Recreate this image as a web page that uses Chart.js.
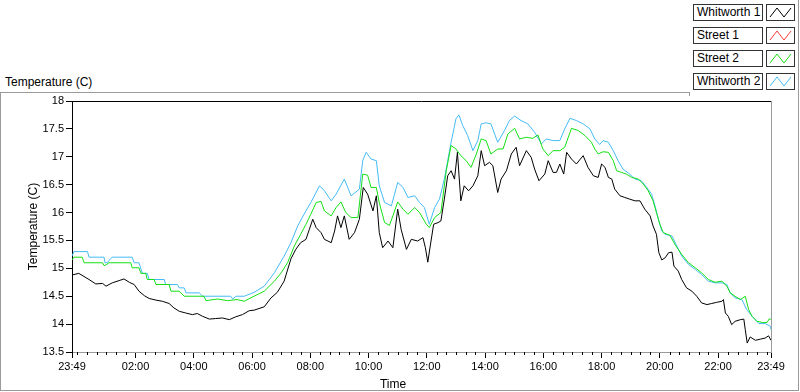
<!DOCTYPE html>
<html>
<head>
<meta charset="utf-8">
<script src="https://cdn.jsdelivr.net/npm/chart.js@4/dist/chart.umd.min.js"></script>
<style>
  html, body { margin: 0; padding: 0; background: #fff; }
  body { width: 800px; height: 392px; position: relative; overflow: hidden;
         font-family: "Liberation Sans", Arial, sans-serif; color: #000; }
  .frame { position: absolute; left: 0; top: 92px; width: 797px; height: 297px; border: 1px solid #9a9a9a; }
  .frame-right { position: absolute; left: 798px; top: 0; width: 1px; height: 92px; background: #9a9a9a; }
  .legend-cover { position: absolute; left: 690px; top: 0; width: 108px; height: 96px; background: #fff; }
  .legend-edge { position: absolute; left: 689px; top: 92px; width: 1px; height: 4px; background: #9a9a9a; }
  .top-label { position: absolute; left: 5px; top: 75px; font-size: 12px; line-height: 14px; }
  .time-title { position: absolute; left: 368px; width: 50px; text-align: center; top: 377px; font-size: 12px; line-height: 14px; }
  .name { position: absolute; left: 693px; width: 65px; height: 15px; border: 1px solid #333;
          padding-left: 3px; font-size: 12px; line-height: 15px; white-space: nowrap; }
  .swatch { position: absolute; left: 766px; width: 27px; height: 15px; border: 1px solid #333; }
  .swatch svg { display: block; }
  #wrap { position: absolute; left: 0; top: 0; width: 800px; height: 392px; }
</style>
</head>
<body>
<div class="frame"></div>
<div class="frame-right"></div>
<div class="legend-cover"></div>
<div class="legend-edge"></div>
<div class="top-label">Temperature (C)</div>
<div id="legend"></div>
<div id="wrap"><canvas id="chart"></canvas></div>
<div class="time-title">Time</div>
<script>
// minutes after 23:49, temperatures in C
const seriesNames = ["Whitworth 1", "Street 1", "Street 2", "Whitworth 2"];
const seriesColors = ["#000000", "#ff3c3c", "#14e014", "#45bbf5"];

const xTickMinutes = [0, 131, 251, 371, 491, 611, 731, 851, 971, 1091, 1211, 1331, 1440];
const xTickLabels = ["23:49", "02:00", "04:00", "06:00", "08:00", "10:00", "12:00",
  "14:00", "16:00", "18:00", "20:00", "22:00", "23:49"];

const whitworth1Min = [0, 14, 35, 49, 63, 70, 83, 97, 107, 118, 128, 138, 149, 159, 173, 186, 200, 210,
  221, 234, 248, 258, 269, 283, 296, 310, 324, 337, 351, 365, 375, 396, 410, 423, 437, 451, 461, 471,
  482, 489, 496, 503, 513, 520, 534, 541, 547, 554, 561, 571, 582, 592, 600, 609, 620, 627, 633, 640,
  651, 661, 671, 678, 689, 699, 712, 723, 728, 733, 738, 745, 754, 760, 767, 774, 781, 788, 794, 801,
  808, 817, 826, 836, 843, 850, 860, 867, 877, 884, 895, 905, 915, 922, 936, 946, 953, 962, 974, 981,
  991, 998, 1005, 1013, 1019, 1029, 1039, 1053, 1063, 1074, 1084, 1091, 1098, 1105, 1112, 1118, 1129,
  1139, 1149, 1160, 1170, 1180, 1191, 1197, 1204, 1209, 1215, 1222, 1229, 1236, 1240, 1249, 1256, 1266,
  1277, 1287, 1297, 1308, 1318, 1328, 1339, 1342, 1346, 1352, 1359, 1366, 1377, 1384, 1387, 1391, 1397,
  1408, 1418, 1428, 1435, 1440];
const whitworth1Temp = [14.88, 14.91, 14.80, 14.72, 14.73, 14.68, 14.74, 14.78, 14.81, 14.75, 14.71,
  14.59, 14.51, 14.46, 14.43, 14.41, 14.37, 14.29, 14.23, 14.20, 14.17, 14.19, 14.14, 14.09, 14.10,
  14.11, 14.08, 14.13, 14.17, 14.24, 14.25, 14.31, 14.47, 14.57, 14.77, 15.17, 15.34, 15.46, 15.52,
  15.70, 15.88, 15.73, 15.64, 15.52, 15.46, 15.67, 15.94, 15.73, 15.94, 15.52, 15.64, 15.88, 16.45,
  16.33, 16.03, 16.30, 15.64, 15.37, 15.49, 15.37, 16.06, 15.70, 15.34, 15.52, 15.49, 15.55, 15.37,
  15.11, 15.40, 15.79, 15.82, 15.85, 16.24, 16.66, 16.75, 16.60, 17.08, 16.21, 16.48, 16.39, 16.48,
  16.66, 17.11, 16.84, 16.90, 16.84, 16.36, 16.60, 16.75, 17.05, 17.17, 16.84, 17.11, 16.99, 16.78,
  16.57, 16.69, 16.93, 16.72, 16.72, 16.87, 16.69, 17.08, 16.96, 16.87, 17.02, 16.81, 16.66, 16.63,
  16.87, 16.81, 16.63, 16.60, 16.42, 16.30, 16.27, 16.24, 16.21, 16.21, 16.06, 15.94, 15.76, 15.61,
  15.28, 15.15, 15.19, 15.28, 15.29, 15.04, 14.95, 14.80, 14.65, 14.59, 14.50, 14.38, 14.35, 14.37,
  14.39, 14.41, 14.44, 14.20, 14.14, 13.99, 14.05, 14.08, 14.09, 13.90, 13.66, 13.77, 13.71, 13.73,
  13.75, 13.79, 13.71];

const street1Min = [];
const street1Temp = [];

const street2Min = [0, 4, 21, 25, 63, 66, 70, 76, 121, 124, 138, 142, 152, 155, 169, 173, 200, 204, 221,
  231, 272, 276, 300, 320, 340, 355, 375, 396, 417, 431, 444, 458, 471, 482, 492, 503, 513, 520, 534,
  544, 554, 564, 575, 589, 599, 609, 616, 627, 633, 644, 654, 661, 671, 682, 692, 706, 716, 730, 736,
  747, 760, 771, 781, 791, 801, 812, 822, 833, 843, 853, 863, 877, 888, 898, 912, 922, 936, 949, 960,
  970, 981, 991, 1005, 1015, 1029, 1043, 1057, 1070, 1077, 1084, 1094, 1105, 1115, 1122, 1132, 1142,
  1153, 1167, 1177, 1187, 1197, 1204, 1211, 1218, 1232, 1242, 1256, 1270, 1284, 1297, 1311, 1325, 1339,
  1349, 1356, 1366, 1377, 1387, 1394, 1401, 1411, 1422, 1432, 1436, 1440];
const street2Temp = [15.15, 15.20, 15.20, 15.10, 15.10, 15.05, 15.06, 15.10, 15.10, 15.01, 15.01,
  14.91, 14.91, 14.80, 14.80, 14.71, 14.71, 14.59, 14.59, 14.50, 14.50, 14.42, 14.45, 14.42, 14.44,
  14.41, 14.50, 14.59, 14.77, 14.92, 15.10, 15.40, 15.61, 15.79, 15.97, 16.18, 16.20, 16.03, 15.94,
  16.09, 16.19, 16.00, 15.91, 15.91, 16.69, 16.67, 16.45, 16.45, 16.18, 15.82, 15.77, 15.94, 16.19,
  16.06, 15.97, 16.09, 16.00, 15.79, 15.73, 15.91, 16.00, 16.75, 17.20, 17.14, 17.02, 16.93, 16.81,
  17.05, 17.32, 17.29, 17.05, 17.14, 17.14, 17.41, 17.51, 17.32, 17.35, 17.33, 17.39, 17.14, 17.02,
  17.11, 17.11, 17.17, 17.51, 17.47, 17.38, 17.26, 17.14, 17.05, 17.09, 17.08, 16.93, 16.75, 16.72,
  16.69, 16.63, 16.60, 16.51, 16.39, 16.21, 16.00, 15.79, 15.64, 15.59, 15.43, 15.25, 15.10, 15.01,
  14.92, 14.80, 14.75, 14.77, 14.68, 14.56, 14.50, 14.44, 14.50, 14.26, 14.14, 14.05, 14.03, 14.03,
  14.09, 14.09];

const whitworth2Min = [0, 4, 32, 35, 66, 68, 73, 76, 83, 124, 128, 138, 145, 155, 159, 190, 193, 217,
  221, 231, 235, 262, 269, 327, 331, 338, 355, 375, 396, 417, 437, 451, 465, 478, 492, 510, 520, 534,
  544, 561, 575, 592, 599, 606, 616, 627, 633, 644, 658, 671, 682, 692, 706, 716, 726, 736, 747, 757,
  767, 781, 791, 797, 805, 815, 826, 836, 843, 853, 863, 877, 891, 901, 912, 925, 939, 953, 967, 977,
  991, 1005, 1015, 1026, 1039, 1053, 1067, 1077, 1087, 1094, 1105, 1115, 1125, 1135, 1146, 1160, 1173,
  1184, 1194, 1201, 1208, 1215, 1222, 1236, 1246, 1256, 1270, 1284, 1297, 1311, 1325, 1339, 1349, 1356,
  1366, 1380, 1390, 1401, 1415, 1428, 1439, 1440];
const whitworth2Temp = [15.22, 15.30, 15.30, 15.20, 15.20, 15.10, 15.10, 15.14, 15.20, 15.20, 15.10,
  15.10, 14.91, 14.91, 14.80, 14.80, 14.71, 14.71, 14.65, 14.65, 14.56, 14.56, 14.50, 14.50, 14.45,
  14.50, 14.50, 14.57, 14.68, 14.92, 15.22, 15.46, 15.76, 15.97, 16.18, 16.48, 16.39, 16.21, 16.33,
  16.60, 16.30, 16.42, 16.93, 17.08, 16.96, 16.93, 16.48, 16.18, 16.12, 16.54, 16.45, 16.27, 16.30,
  16.18, 16.09, 15.79, 16.09, 16.24, 16.60, 17.26, 17.68, 17.75, 17.56, 17.38, 17.11, 17.29, 17.59,
  17.61, 17.59, 17.26, 17.47, 17.65, 17.73, 17.65, 17.59, 17.44, 17.23, 17.32, 17.29, 17.29, 17.50,
  17.69, 17.65, 17.59, 17.50, 17.32, 17.22, 17.29, 17.26, 17.11, 16.93, 16.78, 16.71, 16.60, 16.57,
  16.45, 16.33, 16.12, 15.88, 15.67, 15.61, 15.58, 15.40, 15.22, 15.07, 14.98, 14.89, 14.77, 14.74,
  14.74, 14.71, 14.56, 14.47, 14.44, 14.26, 14.14, 14.01, 14.01, 13.96, 13.90];

const seriesMin = [whitworth1Min, street1Min, street2Min, whitworth2Min];
const seriesTemp = [whitworth1Temp, street1Temp, street2Temp, whitworth2Temp];

// legend boxes, LabVIEW style
const legendEl = document.getElementById("legend");
seriesNames.forEach((name, i) => {
  const top = 4 + i * 23;
  const box = document.createElement("div");
  box.className = "name";
  box.style.top = top + "px";
  box.textContent = name;
  legendEl.appendChild(box);
  const sw = document.createElement("div");
  sw.className = "swatch";
  sw.style.top = top + "px";
  sw.innerHTML = '<svg width="27" height="15"><polyline points="3,12 10,3 17,12 24,3" fill="none" stroke="' +
    seriesColors[i] + '" stroke-width="1"/></svg>';
  legendEl.appendChild(sw);
});

// plot frame: dark top/left, grey right/bottom, plus minor ticks on the time axis
const framePlugin = {
  id: "frame",
  afterDraw(chart) {
    const { ctx, chartArea: a } = chart;
    const xs = chart.scales.x;
    ctx.save();
    ctx.lineWidth = 1;
    ctx.strokeStyle = "#000";
    ctx.beginPath();
    ctx.moveTo(a.left, a.top + 0.5);
    ctx.lineTo(a.right, a.top + 0.5);
    ctx.stroke();
    ctx.strokeStyle = "#9a9a9a";
    ctx.beginPath();
    ctx.moveTo(a.right + 0.5, a.top);
    ctx.lineTo(a.right + 0.5, a.bottom);
    ctx.stroke();
    ctx.strokeStyle = "#000";
    ctx.beginPath();
    for (let m = 11; m < 1440; m += 20) {
      if (xTickMinutes.includes(m)) continue;
      const px = Math.round(xs.getPixelForValue(m)) + 0.5;
      ctx.moveTo(px, a.bottom);
      ctx.lineTo(px, a.bottom + 3);
    }
    ctx.stroke();
    ctx.restore();
  }
};

Chart.defaults.font.family = '"Liberation Sans", Arial, sans-serif';
Chart.defaults.font.size = 11;
Chart.defaults.color = "#000";

const ctx = document.getElementById("chart").getContext("2d");

new Chart(ctx, {
  type: "line",
  data: {
    datasets: seriesNames.map((name, i) => ({
      label: name,
      data: seriesMin[i].map((m, j) => ({ x: m, y: seriesTemp[i][j] })),
      borderColor: seriesColors[i],
      borderWidth: 1,
      pointRadius: 0,
      tension: 0,
      fill: false,
    })),
  },
  options: {
    responsive: true,
    maintainAspectRatio: false,
    animation: false,
    layout: { padding: { top: 101, right: 29, left: 0, bottom: 0 } },
    plugins: {
      legend: { display: false },
      tooltip: { enabled: false },
    },
    scales: {
      x: {
        type: "linear",
        min: 0,
        max: 1440,
        afterBuildTicks: (scale) => {
          scale.ticks = xTickMinutes.map((v) => ({ value: v }));
        },
        afterFit: (scale) => { scale.height = 40; },
        ticks: {
          autoSkip: false,
          maxRotation: 0,
          padding: 2,
          callback: (value) => {
            const k = xTickMinutes.indexOf(value);
            return k >= 0 ? xTickLabels[k] : "";
          },
        },
        grid: { drawOnChartArea: false, tickLength: 6, tickColor: "#000" },
        border: { color: "#9a9a9a" },
      },
      y: {
        min: 13.5,
        max: 18,
        afterFit: (scale) => { scale.width = 72; },
        ticks: { stepSize: 0.5, padding: 2, callback: (value) => String(value) },
        grid: { drawOnChartArea: false, tickLength: 6, tickColor: "#000" },
        border: { color: "#000" },
        title: {
          display: true,
          text: "Temperature (C)",
          font: { size: 12 },
          color: "#000",
          padding: { top: 26, bottom: 0 },
        },
      },
    },
  },
  plugins: [framePlugin],
});
</script>
</body>
</html>
